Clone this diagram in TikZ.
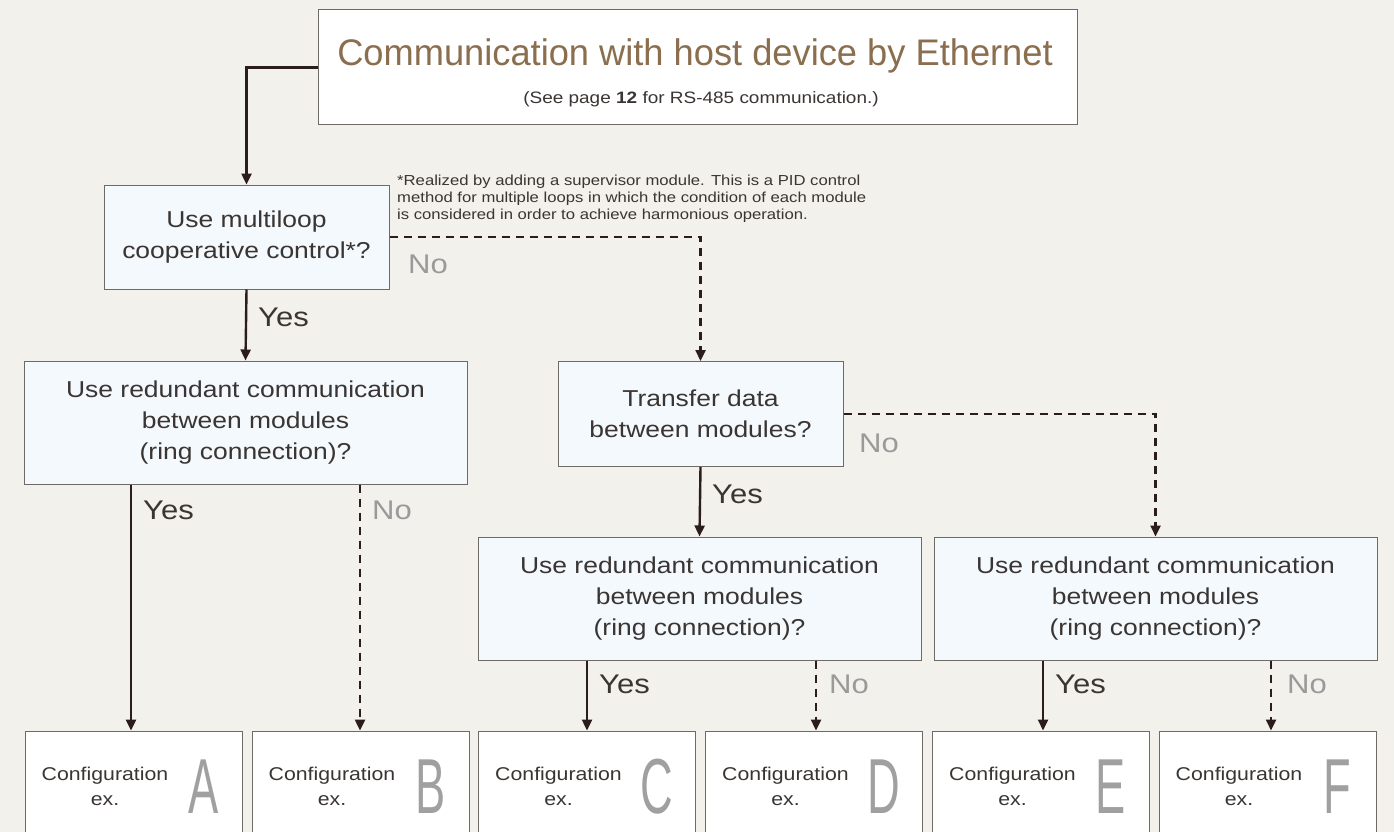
\documentclass[tikz,border=0pt]{standalone}
\usepackage{fontspec}
\setmainfont{Liberation Sans}[FakeStretch=1.15]
\newfontfamily\titlefont{Liberation Sans}[FakeStretch=0.98]
\newfontfamily\letterfont{Liberation Sans}[FakeStretch=0.58]
\usetikzlibrary{arrows.meta}
\definecolor{bg}{HTML}{F3F1EC}
\definecolor{boxline}{HTML}{6E6A66}
\definecolor{qfill}{HTML}{F4F9FD}
\definecolor{arrowc}{HTML}{2A1D1A}
\definecolor{titlec}{HTML}{8A6E4E}
\definecolor{txt}{HTML}{3A3532}
\definecolor{nogray}{HTML}{9A9A9A}
\definecolor{letterc}{HTML}{A0A0A0}
\tikzset{
  qbox/.style={draw=boxline, line width=1pt, fill=qfill, align=center, text=txt, font=\fontsize{23}{31}\selectfont, inner sep=0pt},
  titlebox/.style={draw=boxline, line width=1pt, fill=white, inner sep=0pt},
  cbox/.style={draw=boxline, line width=1pt, fill=white, minimum width=217pt, minimum height=130pt, inner sep=0pt},
  arr/.style={draw=arrowc, line width=2.4pt, -{Triangle[length=11pt,width=10pt]}},
  darr/.style={arr, dash pattern=on 8pt off 6pt},
  yeslbl/.style={anchor=west, text=txt, font=\fontsize{27}{30}\selectfont, inner sep=0pt},
  nolbl/.style={anchor=west, text=nogray, font=\fontsize{27}{30}\selectfont, inner sep=0pt},
  cfgtxt/.style={align=center, text=txt, font=\fontsize{18.5}{25}\selectfont, inner sep=0pt},
  letter/.style={text=letterc, font=\letterfont\fontsize{78}{78}\selectfont, inner sep=0pt},
}
\begin{document}
\begin{tikzpicture}[x=1pt, y=-1pt]
\useasboundingbox (0,0) rectangle (1394,832);
\clip (0,0) rectangle (1394,832);
\fill[bg] (0,0) rectangle (1394,832);

% title
\node[titlebox, minimum width=759pt, minimum height=115pt] (title) at (697.5,67.5) {};
\node[text=titlec, font=\titlefont\fontsize{37}{40}\selectfont, inner sep=0pt] (titletxt) at (695,56) {Communication with host device by Ethernet};
\node[text=txt, font=\fontsize{16.5}{20}\selectfont, inner sep=0pt] (sub) at (701,99) {(See page \textbf{12} for RS-485 communication.)};

% question boxes
\node[qbox, minimum width=285pt, minimum height=104pt] (q1) at (246.5,237) {Use multiloop\\cooperative control*?};
\node[qbox, minimum width=443pt, minimum height=123pt] (q2) at (245.5,422.5) {Use redundant communication\\between modules\\(ring connection)?};
\node[qbox, minimum width=285pt, minimum height=105pt] (q3) at (700.5,414) {Transfer data\\between modules?};
\node[qbox, minimum width=443pt, minimum height=123pt] (q4) at (699.5,598.5) {Use redundant communication\\between modules\\(ring connection)?};
\node[qbox, minimum width=443pt, minimum height=123pt] (q5) at (1155.5,598.5) {Use redundant communication\\between modules\\(ring connection)?};

% footnote
\node[anchor=north west, align=left, text=txt, font=\fontsize{14.5}{17}\selectfont, inner sep=0pt] (note) at (397,175)
  {*Realized by adding a supervisor module. This is a PID control\\method for multiple loops in which the condition of each module\\is considered in order to achieve harmonious operation.};

% configuration boxes
\foreach \n/\x/\L in {cA/133.5/A, cB/360.5/B, cC/587/C, cD/814/D, cE/1041/E, cF/1267.5/F}{
  \node[cbox] (\n) at (\x,796) {};
  \node[cfgtxt] (\n t) at (\x-28.5,786) {Configuration\\ex.};
  \node[letter] (\n l) at (\x+70,787) {\L};
}

% connectors
\draw[arr] (title.west) -| (q1.north);
\draw[arr] (q1.south) -- (q2.north);
\draw[darr] (q1.east) -| (q3.north);
\draw[arr] (q3.south) -- (q4.north);
\draw[darr] (q3.east) -| (q5.north);
\coordinate (a1) at (q2.south -| 131,0);
\coordinate (b1) at (q2.south -| 360,0);
\draw[arr] (a1) -- (a1 |- cA.north);
\draw[darr] (b1) -- (b1 |- cB.north);
\coordinate (c1) at (q4.south -| 587,0);
\coordinate (d1) at (q4.south -| 816,0);
\draw[arr] (c1) -- (c1 |- cC.north);
\draw[darr] (d1) -- (d1 |- cD.north);
\coordinate (e1) at (q5.south -| 1043,0);
\coordinate (f1) at (q5.south -| 1271,0);
\draw[arr] (e1) -- (e1 |- cE.north);
\draw[darr] (f1) -- (f1 |- cF.north);

% labels
\node[yeslbl] (y1) at (258,317) {Yes};
\node[nolbl] (n1) at (408,264) {No};
\node[yeslbl] (y2) at (712,494) {Yes};
\node[nolbl] (n2) at (859,443) {No};
\node[yeslbl] (y3) at (143,510) {Yes};
\node[nolbl] (n3) at (372,510) {No};
\node[yeslbl] (y4) at (599,684) {Yes};
\node[nolbl] (n4) at (829,684) {No};
\node[yeslbl] (y5) at (1055,684) {Yes};
\node[nolbl] (n5) at (1287,684) {No};
\end{tikzpicture}
\end{document}
